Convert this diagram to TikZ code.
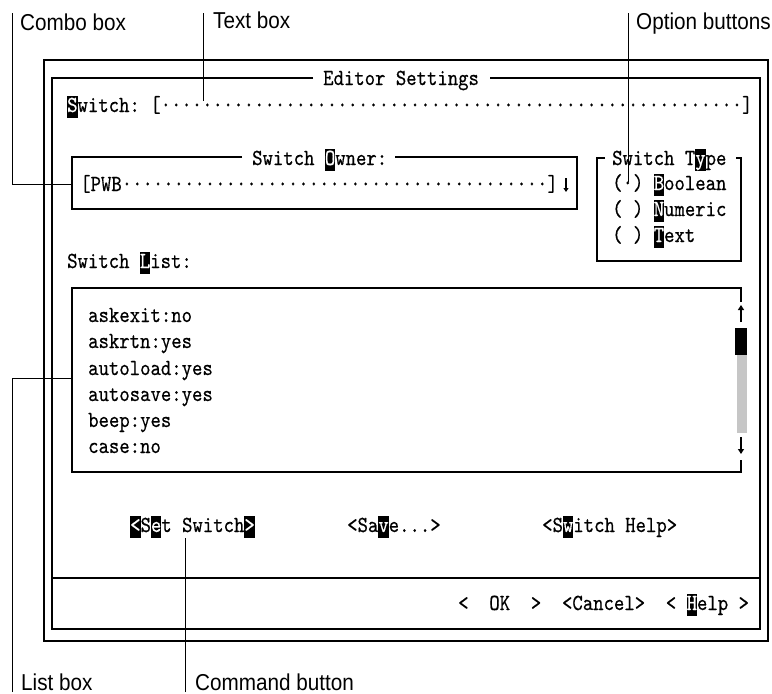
\documentclass[tikz,border=0pt]{standalone}
\usepackage{fontspec}
\newfontfamily\dosf{lmmono10-regular}[Extension=.otf,FakeStretch=0.86,FakeBold=0.5]
\newfontfamily\labf{Liberation Sans}[FakeStretch=0.9]
\usetikzlibrary{arrows.meta}
\newcommand\hk[1]{{\setlength\fboxsep{0pt}\colorbox{black}{\rule[-0.24em]{0pt}{0.92em}\textcolor{white}{#1}}}}
\newcount\dcnt
\newcommand\fdots[1]{\dcnt=#1\relax\loop\ifnum\dcnt>0 \char"00B7\advance\dcnt by -1 \repeat}
\newcommand\dossize{\dosf\fontsize{23}{26}\selectfont\frenchspacing\spaceskip=\fontcharwd\font`0 plus 0pt minus 0pt\relax\xspaceskip=\spaceskip}
\tikzset{
  dos/.style={font=\dossize, inner sep=0pt, anchor=base west},
  lab/.style={font=\labf\fontsize{23}{26}\selectfont, inner sep=0pt, anchor=base west},
  frame/.style={line width=1.3pt},
  leader/.style={line width=1pt},
  sarrow/.style={line width=2pt,-{Triangle[length=5pt,width=6pt]}},
}
\begin{document}
\begin{tikzpicture}[x=1pt,y=-1pt]
\useasboundingbox (0,0) rectangle (772,694);
% frames
\draw[frame] (44,60) rectangle (768,641);
\node[dos] (ttl) at (323,85) {Editor Settings};
\draw[frame] (313,78) -- (52,78) -- (52,629) -- (760,629) -- (760,78) -- (490,78);
\draw[frame] (52,578) -- (760,578);
% text box
\node[dos] (sw) at (67,112) {\hk{S}witch: [\fdots{56}]};
% combo box
\node[dos] (own) at (252,165) {Switch \hk{O}wner:};
\draw[frame] (242,157) -- (72,157) -- (72,209) -- (577,209) -- (577,157) -- (395,157);
\node[dos] (pwb) at (80,191) {[PWB\fdots{41}]};
\draw[line width=1.6pt,-{Triangle[length=4pt,width=5pt]}] (566,178) -- (566,192);
% option buttons
\node[dos] (stype) at (612,165) {Switch T\hk{y}pe};
\draw[frame] (605,158) -- (597,158) -- (597,261) -- (741,261) -- (741,158) -- (736,158);
\node[dos] (ob) at (612,190) {(\char"00B7) \hk{B}oolean};
\node[dos] (on) at (612,216) {( ) \hk{N}umeric};
\node[dos] (ot) at (612,242) {( ) \hk{T}ext};
% list box
\node[dos] (sl) at (67,268) {Switch \hk{L}ist:};
\draw[frame] (741,302) -- (741,288) -- (72,288) -- (72,472) -- (741,472) -- (741,460);
\draw[sarrow] (741,322) -- (741,305);
\fill (735,328) rectangle (747,355);
\fill[gray!45] (737,355) rectangle (747,433);
\draw[sarrow] (741,437) -- (741,454);
\node[dos] (l1) at (88,322) {askexit:no};
\node[dos] (l2) at (88,348) {askrtn:yes};
\node[dos] (l3) at (88,375) {autoload:yes};
\node[dos] (l4) at (88,401) {autosave:yes};
\node[dos] (l5) at (88,427) {beep:yes};
\node[dos] (l6) at (88,453) {case:no};
% command buttons
\node[dos] (bset) at (130,532) {\hk{<}S\hk{e}t Switch\hk{>}};
\node[dos] (bsave) at (347,532) {<Sa\hk{v}e...>};
\node[dos] (bhelp) at (542,532) {<S\hk{w}itch Help>};
\node[dos] (bok) at (458,610) {<~~OK~~>~~<Cancel>~~<~\hk{H}elp~>};
% callout labels
\node[lab] (lcombo) at (20,30) {Combo box};
\node[lab] (ltext) at (213,28) {Text box};
\node[lab] (lopt) at (636,29) {Option buttons};
\node[lab] (llist) at (21,690) {List box};
\node[lab] (lcmd) at (195,690) {Command button};
% leaders
\coordinate (cbtop) at (12,13);
\coordinate (cbl) at (72,184);
\draw[leader] (cbtop) |- (cbl);
\coordinate (tbtop) at (203,13);
\coordinate (tbend) at (203,101);
\draw[leader] (tbtop) -- (tbend);
\coordinate (obtop) at (628,13);
\coordinate (obend) at (628,182);
\draw[leader] (obtop) -- (obend);
\coordinate (lbbot) at (12,692);
\coordinate (lbl) at (72,378);
\draw[leader] (lbbot) |- (lbl);
\coordinate (cmbot) at (185,692);
\coordinate (cmtop) at (185,538);
\draw[leader] (cmbot) -- (cmtop);
\end{tikzpicture}
\end{document}
